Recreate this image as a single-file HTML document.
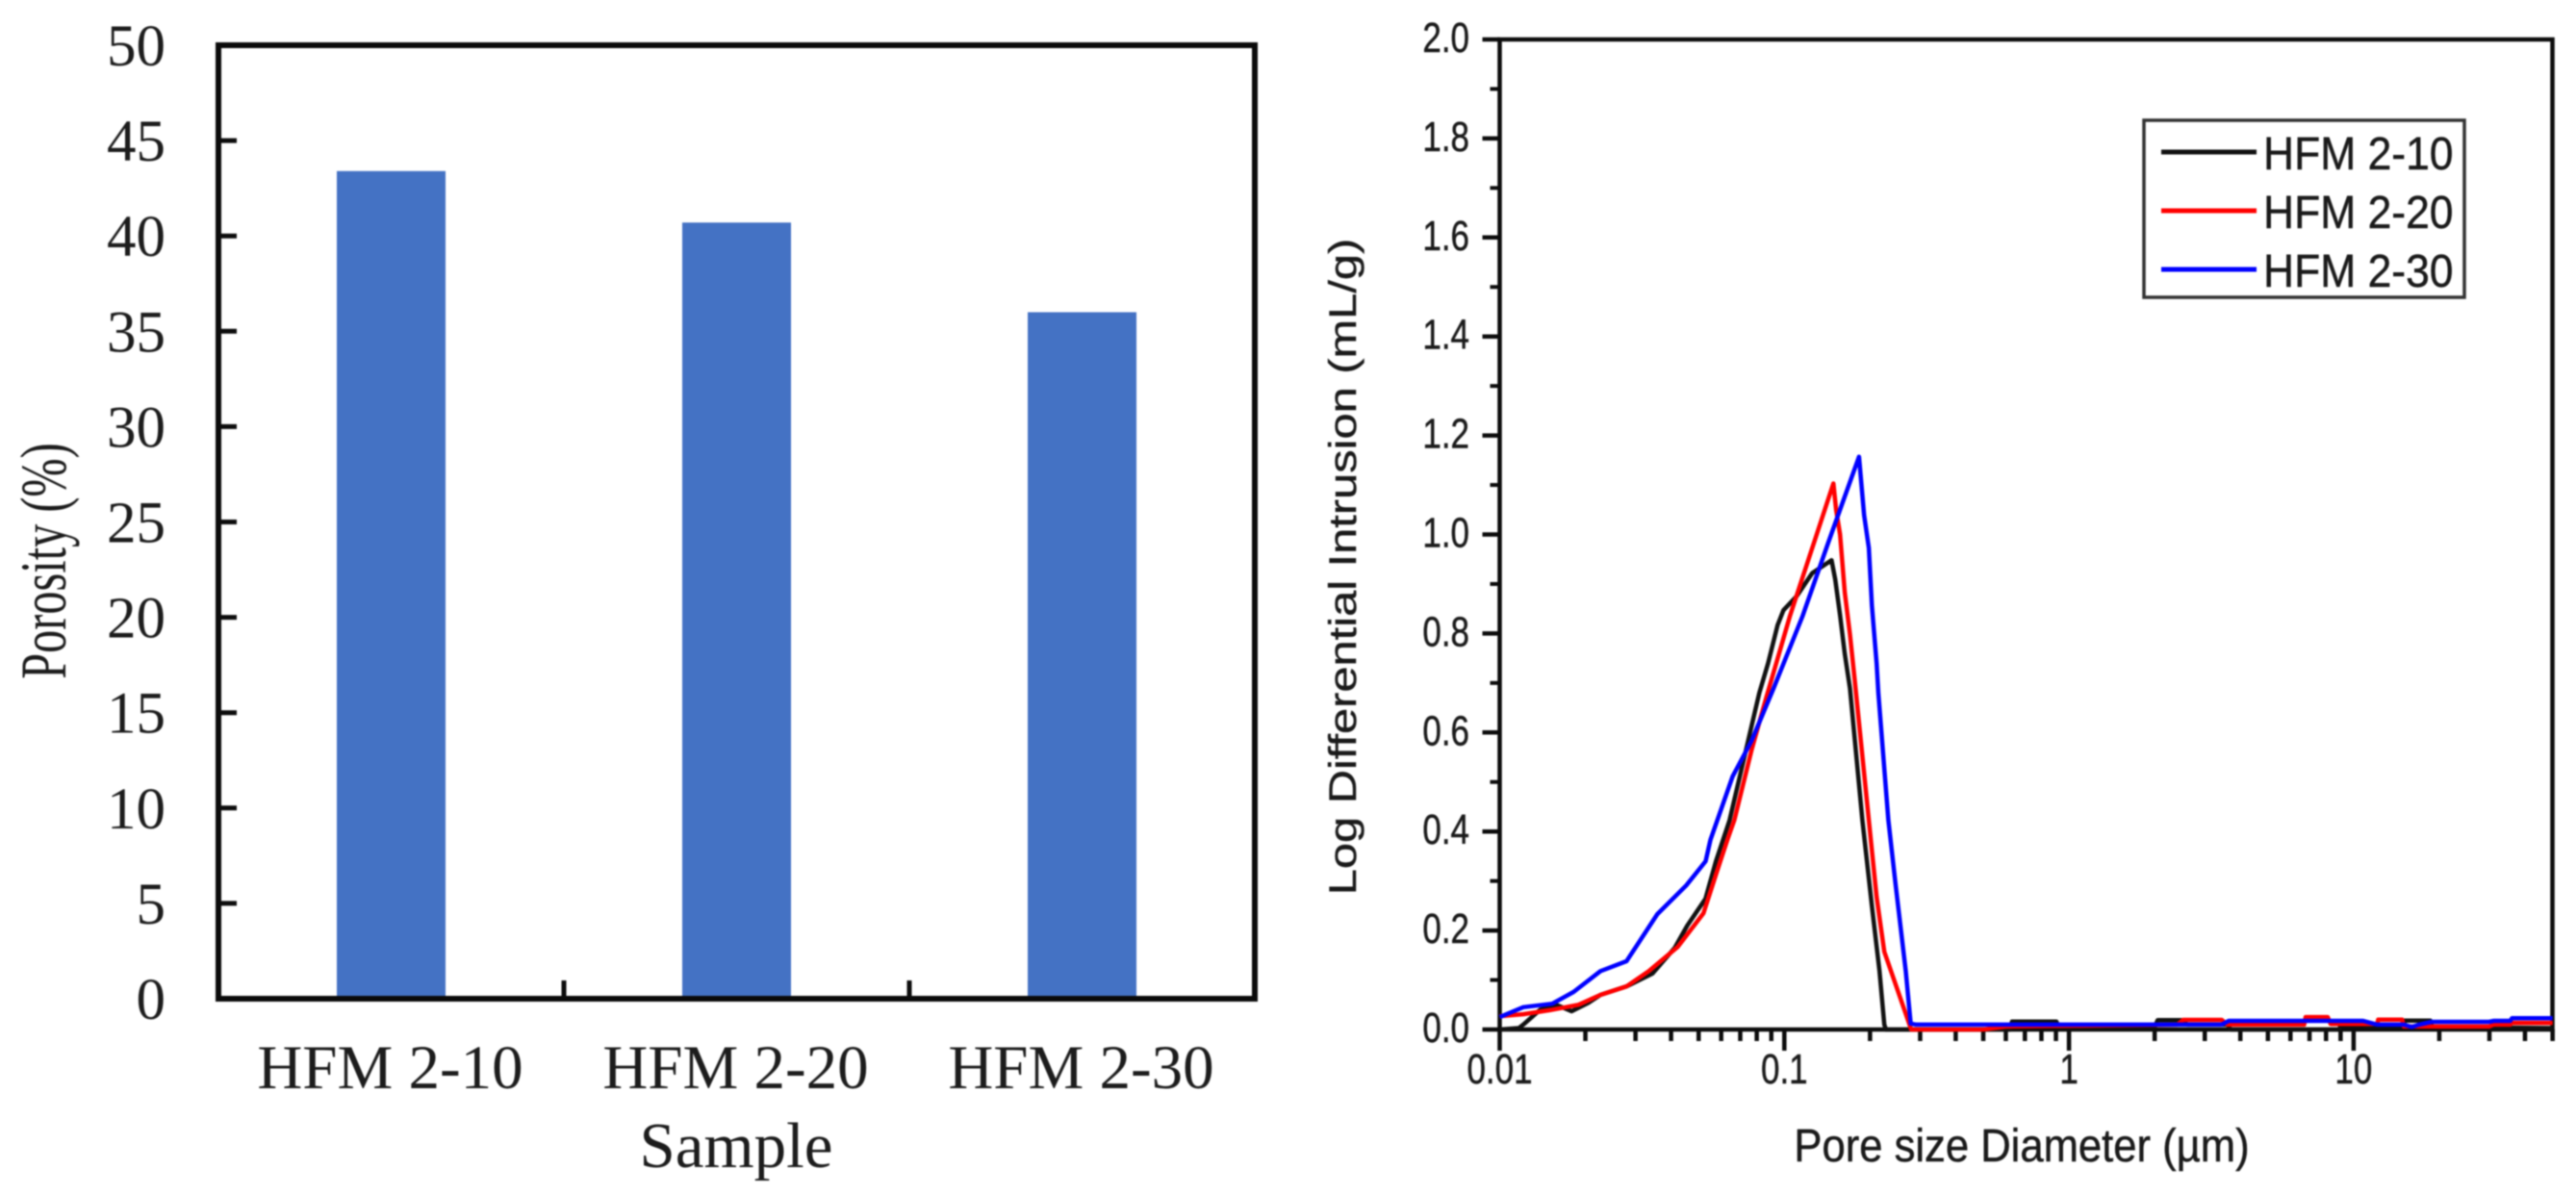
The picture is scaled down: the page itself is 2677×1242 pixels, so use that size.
<!DOCTYPE html>
<html lang="en">
<head>
<meta charset="utf-8">
<title>Porosity and pore size distribution</title>
<style>
html,body{margin:0;padding:0;background:#fff;width:2677px;height:1242px;overflow:hidden}
svg{display:block;filter:blur(0.7px)}
.serif{font-family:"Liberation Serif",serif;fill:#1c1c1c}
.sans{font-family:"Liberation Sans",sans-serif;fill:#1a1a1a;stroke:#1a1a1a;stroke-width:0.4px}
</style>
</head>
<body>
<svg id="figure" xmlns="http://www.w3.org/2000/svg" width="2677" height="1242" viewBox="0 0 2677 1242">
<rect width="2677" height="1242" fill="#fff"/>
<g id="bar-chart"></g>
<g id="line-chart"></g>
</svg>
<script>
// ---- Bar chart data ----
const barCategories = ["HFM 2-10", "HFM 2-20", "HFM 2-30"];
const barValues = [43.4, 40.7, 36.0];
const barTicks = [0, 5, 10, 15, 20, 25, 30, 35, 40, 45, 50];

// ---- Line chart data ----
const seriesNames = ["HFM 2-10", "HFM 2-20", "HFM 2-30"];
const d210 = [0.01,0.01168,0.0121,0.01387,0.0158,0.0179,0.0205,0.0226,0.0279,0.0344,0.0412,0.0456,0.0528,0.0575,0.0642,0.0817,0.0877,0.0947,0.0993,0.1107,0.1253,0.1465,0.151,0.157,0.163,0.17,0.188,0.203,0.216,0.2246,0.2275,0.62,0.631,0.904,0.92,2.0,2.05,2.52,2.6,3.6,3.7,8.9,9.0,10.8,11,15,15.1,18.6,18.9,50];
const v210 = [0,0.003,0.01,0.04,0.05,0.037,0.054,0.07,0.087,0.113,0.165,0.21,0.264,0.34,0.423,0.68,0.74,0.817,0.847,0.876,0.922,0.948,0.909,0.837,0.759,0.689,0.423,0.249,0.118,0.01,0,0,0.016,0.016,0.005,0.005,0.019,0.019,0.01,0.01,0,0,0.008,0.008,0.005,0.005,0.018,0.018,0.005,0.003];
const d220 = [0.01,0.0121,0.015,0.0189,0.0226,0.0279,0.0334,0.0422,0.052,0.0575,0.0631,0.0667,0.0767,0.0863,0.0968,0.1047,0.1224,0.143,0.1487,0.152,0.157,0.163,0.17,0.1765,0.198,0.211,0.2246,0.273,0.279,0.5,0.6,2.4,2.52,3.44,3.6,6.7,6.78,8.11,8.3,12.1,12.2,14.8,15,18.7,18.8,29.9,31,35.5,35.6,50];
const v220 = [0.027,0.031,0.039,0.05,0.07,0.087,0.118,0.167,0.235,0.313,0.383,0.423,0.564,0.67,0.768,0.836,0.955,1.073,1.103,1.05,1.0,0.883,0.798,0.709,0.423,0.268,0.157,0.016,0,0,0.006,0.01,0.0195,0.0195,0.01,0.01,0.025,0.025,0.011,0.011,0.02,0.02,0.006,0.006,0.006,0.006,0.01,0.01,0.0135,0.0135];
const d230 = [0.01,0.0121,0.0153,0.0182,0.0226,0.0279,0.0358,0.0452,0.0529,0.055,0.0658,0.0767,0.0918,0.116,0.143,0.183,0.1906,0.198,0.203,0.211,0.214,0.232,0.246,0.267,0.278,0.29,3.44,3.64,10.8,12.1,15,16,17,18.8,29.9,31.1,35.5,36,50];
const v230 = [0.025,0.045,0.052,0.076,0.118,0.138,0.233,0.291,0.34,0.383,0.511,0.583,0.69,0.836,0.985,1.157,1.039,0.973,0.856,0.74,0.68,0.423,0.293,0.118,0.012,0.01,0.01,0.0175,0.0175,0.01,0.01,0.005,0.01,0.0155,0.0155,0.0175,0.0175,0.023,0.023];
const seriesX = [d210, d220, d230];
const seriesY = [v210, v220, v230];
const seriesColors = ["#111111", "#ff0000", "#0000ff"];
const yTicksRight = ["0.0","0.2","0.4","0.6","0.8","1.0","1.2","1.4","1.6","1.8","2.0"];
const xMajorTicks = [0.01, 0.1, 1, 10];
const xMajorLabels = ["0.01", "0.1", "1", "10"];

const NS = "http://www.w3.org/2000/svg";
function el(parent, tag, attrs) {
  const e = document.createElementNS(NS, tag);
  for (const k in attrs) e.setAttribute(k, attrs[k]);
  parent.appendChild(e);
  return e;
}
function stroke(parent, x1, y1, x2, y2, w, name) {
  const l = el(parent, "line", {x1, y1, x2, y2, stroke: "#0c0c0c", "stroke-width": w});
  
  
  return l;
}
function label(parent, txt, x, y, cls, size, anchor, sx, sy, rot, name) {
  const t = el(parent, "text", {
    class: cls, "font-size": size, "text-anchor": anchor,
    transform: "translate(" + x + "," + y + ")" + (rot ? " rotate(" + rot + ")" : "") + " scale(" + sx + "," + sy + ")"
  });
  t.textContent = txt;
  
  
  return t;
}

// ---- Bar chart ----
(function () {
  const g = document.getElementById("bar-chart");
  const L = 227, R = 1304, T = 47, B = 1038;
  const yMax = 50;
  const y = v => B - (v / yMax) * (B - T);
  const band = (R - L) / barCategories.length;
  const cx = i => L + band * (i + 0.5);
  const barW = 113;

  barValues.forEach((v, i) => {
    const r = el(g, "rect", {x: cx(i) - barW / 2, y: y(v), width: barW, height: B - y(v), fill: "#4472c4"});
    
    
  });

  const frame = el(g, "rect", {x: L, y: T, width: R - L, height: B - T, fill: "none", stroke: "#0a0a0a", "stroke-width": 6});
  
  

  barTicks.forEach(v => {
    if (v !== 0 && v !== yMax) stroke(g, L, y(v), L + 19, y(v), 5, 'bar-y-tick');
    label(g, String(v), 172, y(v) + 21, "serif", 61, "end", 1, 1, 0, 'bar-y-tick-label');
  });
  for (let i = 1; i < barCategories.length; i++) {
    stroke(g, L + band * i, B, L + band * i, B - 19, 5, 'bar-x-tick');
  }
  barCategories.forEach((c, i) => {
    label(g, c, cx(i) - 1, 1131, "serif", 65, "middle", 1, 1, 0, 'bar-x-tick-label');
  });
  label(g, "Sample", 765, 1213, "serif", 67, "middle", 1, 1, 0, 'bar-x-axis-title');
  label(g, "Porosity (%)", 68, 583, "serif", 68, "middle", 0.71, 1, -90, 'bar-y-axis-title');
})();

// ---- Line chart ----
(function () {
  const g = document.getElementById("line-chart");
  const L = 1558.5, R = 2652.5, T = 41, B = 1070;
  const yMax = 2, xMin = 0.01, xDecade = 295.8;
  const x = d => L + (Math.log10(d) - Math.log10(xMin)) * xDecade;
  const y = v => B - (v / yMax) * (B - T);

  const frame = el(g, "rect", {x: L, y: T, width: R - L, height: B - T, fill: "none", stroke: "#0c0c0c", "stroke-width": 4.5});
  
  

  yTicksRight.forEach((s, i) => {
    const v = parseFloat(s);
    stroke(g, L, y(v), L - 18, y(v), 4.5, 'line-y-major-tick');
    label(g, s, 1527, y(v) + 13, "sans", 35, "end", 1, 1.25, 0, 'line-y-tick-label');
    if (i < yTicksRight.length - 1) {
      const m = v + 0.1;
      stroke(g, L, y(m), L - 10, y(m), 4, 'line-y-minor-tick');
    }
  });

  xMajorTicks.forEach((d, i) => {
    stroke(g, x(d), B, x(d), B + 22, 4.5, 'line-x-major-tick');
    label(g, xMajorLabels[i], x(d), 1126, "sans", 35, "middle", 1, 1.25, 0, 'line-x-tick-label');
    for (let k = 2; k <= 9; k++) {
      const m = d * k;
      if (x(m) <= R + 2) stroke(g, x(m), B, x(m), B + 12, 4.5, 'line-x-minor-tick');
    }
  });

  seriesX.forEach((xs, i) => {
    const pts = xs.map((d, j) => x(d).toFixed(1) + "," + y(seriesY[i][j]).toFixed(1)).join(" ");
    const p = el(g, "polyline", {points: pts, fill: "none", stroke: seriesColors[i], "stroke-width": 4.5, "stroke-linejoin": "round"});
    
    
  });

  const box = el(g, "rect", {x: 2228, y: 125, width: 333, height: 184, fill: "#fff", stroke: "#333", "stroke-width": 3.5});
  
  
  seriesNames.forEach((s, i) => {
    const ly = 158 + i * 61;
    const l = el(g, "line", {x1: 2246, y1: ly, x2: 2345, y2: ly, stroke: seriesColors[i], "stroke-width": 5});
    
    
    label(g, s, 2352, ly + 18, "sans", 44, "start", 1.01, 1.1, 0, 'legend-label');
  });

  label(g, "Pore size Diameter (µm)", 2101, 1207, "sans", 40, "middle", 1.09, 1.2, 0, 'line-x-axis-title');
  label(g, "Log Differential Intrusion (mL/g)", 1409, 589, "sans", 40, "middle", 1.22, 1, -90, 'line-y-axis-title');
})();
</script>
</body>
</html>
